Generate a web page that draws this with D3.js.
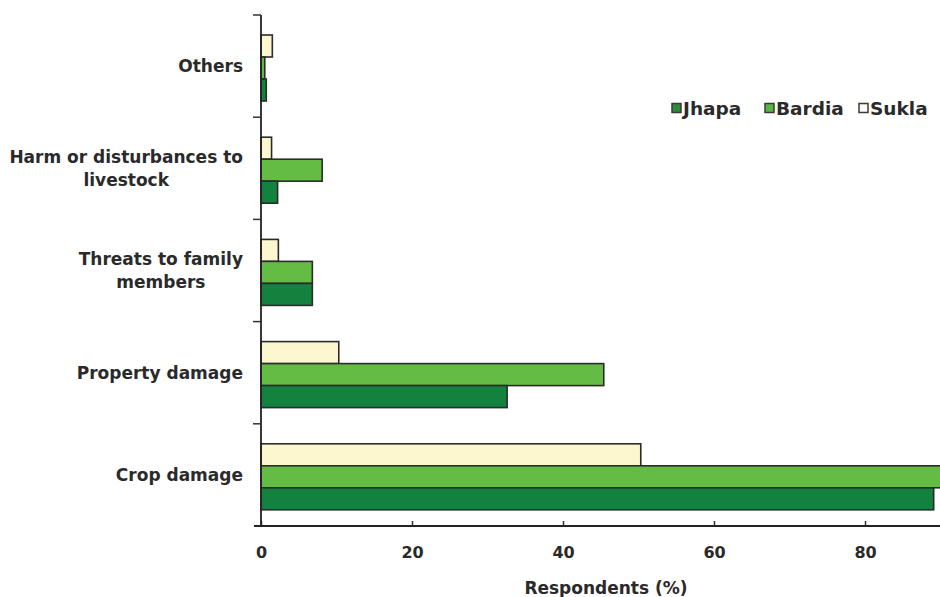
<!DOCTYPE html>
<html>
<head>
<meta charset="utf-8">
<script src="https://cdn.jsdelivr.net/npm/d3@7"></script>
<style>
  html, body { margin: 0; padding: 0; background: #fff; }
  svg { display: block; }
  text { font-family: "DejaVu Sans", sans-serif; font-weight: bold; fill: #2a2a2a; }
</style>
</head>
<body>
<svg id="chart" width="940" height="597"></svg>
<script>
// ---- data ----
const categories = ["Others", "Harm or disturbances to|livestock", "Threats to family|members", "Property damage", "Crop damage"];
const seriesNames = ["Sukla", "Bardia", "Jhapa"];          // top-to-bottom order within each group
const legendOrder = ["Jhapa", "Bardia", "Sukla"];
const jhapa  = [0.7, 2.2, 6.8, 32.6, 89.1];
const bardia = [0.5, 8.1, 6.8, 45.4, 92.0];
const sukla  = [1.5, 1.4, 2.3, 10.3, 50.3];
const xTicks = [0, 20, 40, 60, 80];
const xDomain = [0, 90];
const axisTitle = "Respondents (%)";

const valuesBySeries = { Jhapa: jhapa, Bardia: bardia, Sukla: sukla };
const colors = { Jhapa: "#13823f", Bardia: "#64bc45", Sukla: "#fcf7cf" };
const legendSwatch = { Jhapa: "#2f8a3c", Bardia: "#5db443", Sukla: "#fbfbf4" };

const svg = d3.select("#chart");
const x = d3.scaleLinear().domain(xDomain).range([261, 940.5]);
const y = d3.scaleBand().domain(categories).range([15, 526]).padding(0);
const inner = d3.scaleBand().domain(seriesNames).range([20, 86]).padding(0);

// bars
const groups = svg.append("g").selectAll("g")
  .data(categories)
  .join("g")
  .attr("transform", d => `translate(0,${y(d)})`);

groups.selectAll("rect")
  .data((c, i) => seriesNames.map(s => ({ s, v: valuesBySeries[s][i] })))
  .join("rect")
  .attr("x", x(0))
  .attr("y", d => inner(d.s))
  .attr("width", d => x(d.v) - x(0))
  .attr("height", inner.bandwidth())
  .attr("fill", d => colors[d.s])
  .attr("stroke", "#2b2b2b")
  .attr("stroke-width", 1.6);

// x axis
const xAxis = svg.append("g")
  .attr("transform", "translate(0,526)")
  .call(d3.axisBottom(x).tickValues(xTicks).tickSize(-5).tickPadding(0).tickFormat(d3.format("d")));
xAxis.select(".domain").remove();
xAxis.append("line").attr("x1", 254).attr("x2", 940).attr("y1", 0).attr("y2", 0)
  .attr("stroke", "#222").attr("stroke-width", 1.8);
xAxis.selectAll(".tick line").attr("stroke", "#333").attr("stroke-width", 1.5);
xAxis.selectAll(".tick text")
  .attr("y", 32)
  .attr("dy", 0)
  .style("font-size", "16px")
  .style("font-family", "DejaVu Sans")
  .style("font-weight", "bold")
  .attr("fill", "#2a2a2a");

// y axis (ticks at band boundaries)
const yAxis = svg.append("g");
yAxis.append("line").attr("x1", 261).attr("x2", 261).attr("y1", y.range()[0]).attr("y2", 527)
  .attr("stroke", "#222").attr("stroke-width", 1.8);
const boundaries = categories.map(c => y(c));
yAxis.selectAll(".ytick").data(boundaries).join("line")
  .attr("x1", 253).attr("x2", 261)
  .attr("y1", d => d).attr("y2", d => d)
  .attr("stroke", "#333").attr("stroke-width", 1.5);

// category labels (centered multi-line blocks, right edge at 243)
const labelRight = 243, lineH = 23;
categories.forEach(c => {
  const lines = c.split("|");
  const cy = y(c) + y.bandwidth() / 2;
  const t = svg.append("text").style("font-size", "17px").attr("text-anchor", "middle");
  lines.forEach((ln, i) => {
    t.append("tspan").text(ln)
      .attr("y", cy + (i - (lines.length - 1) / 2) * lineH + 6);
  });
  let maxW = 0;
  t.selectAll("tspan").each(function() { maxW = Math.max(maxW, this.getComputedTextLength()); });
  t.selectAll("tspan").attr("x", labelRight - maxW / 2);
});

// axis title
svg.append("text")
  .attr("x", 606).attr("y", 594)
  .attr("text-anchor", "middle")
  .style("font-size", "17px")
  .text(axisTitle);

// legend
const legendX = [672, 765, 859];
const lg = svg.append("g");
legendOrder.forEach((s, i) => {
  lg.append("rect")
    .attr("x", legendX[i]).attr("y", 103.5)
    .attr("width", 9).attr("height", 9)
    .attr("fill", legendSwatch[s])
    .attr("stroke", "#3a3a3a").attr("stroke-width", 1.5);
  lg.append("text")
    .attr("x", legendX[i] + 11).attr("y", 115)
    .style("font-size", "18.5px")
    .text(s);
});
</script>
</body>
</html>
